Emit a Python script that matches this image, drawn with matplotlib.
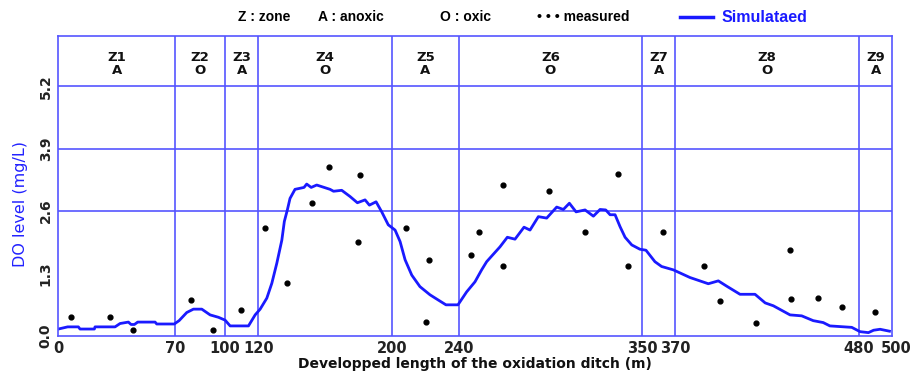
import matplotlib.pyplot as plt
from matplotlib.lines import Line2D
from matplotlib.transforms import ScaledTranslation

# zone boundaries along the ditch (m) and their labels
zone_edges = [0, 70, 100, 120, 200, 240, 350, 370, 480, 500]
zone_names = ["Z1", "Z2", "Z3", "Z4", "Z5", "Z6", "Z7", "Z8", "Z9"]
zone_types = ["A", "O", "A", "O", "A", "O", "A", "O", "A"]

y_ticks = [0.0, 1.3, 2.6, 3.9, 5.2]

# measured DO (mg/L)
meas_x = [7.6, 31.2, 45, 79.6, 92.9, 109.5, 123.8, 136.9, 151.9, 162.3, 179.5,
          180.9, 208.3, 220.4, 222.4, 247.2, 252.4, 266.4, 266.4, 294, 315.6,
          335.4, 341.7, 362.7, 386.9, 396.5, 418.1, 438.7, 439.3, 455.3, 470,
          489.4]
meas_y = [0.38, 0.38, 0.11, 0.75, 0.11, 0.54, 2.24, 1.09, 2.76, 3.52, 1.95,
          3.34, 2.24, 0.29, 1.58, 1.67, 2.15, 3.15, 1.46, 3.02, 2.17,
          3.37, 1.46, 2.15, 1.46, 0.71, 0.26, 1.79, 0.77, 0.79, 0.59,
          0.50]

# simulated DO profile
sim_x = [0, 5.6, 12, 13, 21.6, 22, 34, 37, 42, 43.6, 45.6, 47.6, 58, 59, 69.5,
         72.4, 77, 81, 86, 91, 96, 100, 103, 114, 118, 121, 125, 128, 131, 134,
         135.5, 137.3, 138.9, 141.9, 147.3, 148.9, 151.6, 154.9, 162.9, 165,
         169.9, 174.9, 179.3, 183.9, 186.5, 190.5, 193.9, 197.8, 201.9, 204.9,
         207.9, 211.9, 216.8, 222.8, 227.8, 232.4, 239.6, 244.8, 249.8, 253.8,
         256.8, 260.4, 264.8, 269.2, 273.8, 279.2, 282.8, 287.8, 292.8, 298.8,
         302.8, 306.4, 310.4, 315.8, 320.8, 324.8, 328.2, 330.8, 333.8, 336.8,
         339.8, 343.8, 348.7, 352.3, 357.7, 361.7, 368.7, 378.7, 389.7, 395.7,
         400.7, 408.7, 417.7, 423.8, 428.7, 438.7, 445.7, 452.6, 458.6, 462.6,
         475.7, 480.7, 485.7, 488.8, 492.7, 498.3]
sim_y = [0.135, 0.18, 0.18, 0.135, 0.135, 0.18, 0.18, 0.25, 0.28, 0.23, 0.23,
         0.28, 0.28, 0.24, 0.24, 0.31, 0.48, 0.55, 0.55, 0.43, 0.38, 0.32, 0.2,
         0.2, 0.43, 0.55, 0.78, 1.09, 1.51, 1.99, 2.38, 2.62, 2.86, 3.05, 3.09,
         3.16, 3.09, 3.14, 3.05, 3.01, 3.03, 2.90, 2.77, 2.83, 2.72, 2.79,
         2.58, 2.31, 2.20, 1.96, 1.58, 1.26, 1.02, 0.85, 0.74, 0.64, 0.64,
         0.91, 1.12, 1.37, 1.54, 1.68, 1.85, 2.05, 2.01, 2.26, 2.20, 2.48,
         2.45, 2.68, 2.63, 2.76, 2.58, 2.62, 2.49, 2.63, 2.62, 2.52, 2.52,
         2.27, 2.05, 1.89, 1.80, 1.78, 1.54, 1.44, 1.37, 1.21, 1.08, 1.14,
         1.03, 0.86, 0.86, 0.68, 0.62, 0.43, 0.41, 0.31, 0.27, 0.20, 0.17,
         0.08, 0.06, 0.11, 0.13, 0.09]

grid_c = "#5555ff"
line_c = "#1a1aff"

fig = plt.figure(figsize=(9.13, 3.84), dpi=100)
ax = fig.add_axes([0.0639, 0.1263, 0.9134, 0.78])

ax.set_xlim(0, 500)
ax.set_ylim(0, 6.25)

for x in zone_edges[1:-1]:
    ax.axvline(x, color=grid_c, lw=1.2)
for y in y_ticks[2:]:
    ax.axhline(y, color=grid_c, lw=1.2)

for i, (name, kind) in enumerate(zip(zone_names, zone_types)):
    xc = (zone_edges[i] + zone_edges[i + 1]) / 2
    ax.text(xc, 5.67, name + "\n" + kind, ha="center", va="center",
            fontsize=9.5, fontweight="bold", color="#111111", linespacing=1.0)

ax.plot(sim_x, sim_y, color=line_c, lw=2)
ax.scatter(meas_x, meas_y, s=12, color="black", zorder=3)

for s in ax.spines.values():
    s.set_color(grid_c)
    s.set_linewidth(1.2)

ax.set_xticks(zone_edges)
ax.set_xticklabels([str(v) for v in zone_edges], fontsize=10.5,
                   fontweight="bold", color="#222222")
ax.set_yticks(y_ticks)
ax.set_yticklabels(["%.1f" % v for v in y_ticks], rotation=90, fontsize=10,
                   fontweight="bold", color="#222222", va="center")
ax.tick_params(length=0, pad=4)

# nudge the end label so "480" and "500" don't collide
last = ax.get_xticklabels()[-1]
last.set_transform(last.get_transform() +
                   ScaledTranslation(3 / 72, 0, fig.dpi_scale_trans))

ax.set_xlabel("Developped length of the oxidation ditch (m)", fontsize=10,
              fontweight="bold", color="#111111", labelpad=1)
ax.set_ylabel("DO level (mg/L)", fontsize=11.5, color="#2222ff")
ax.yaxis.set_label_coords(-0.036, 0.44)

# key above the plot
ky = 0.955
fn = ["Liberation Sans", "DejaVu Sans"]
fig.text(238 / 913, ky, "Z : zone", fontsize=10, fontweight="bold",
         family=fn, va="center")
fig.text(318 / 913, ky, "A : anoxic", fontsize=10, fontweight="bold",
         family=fn, va="center")
fig.text(440 / 913, ky, "O : oxic", fontsize=10, fontweight="bold",
         family=fn, va="center")
fig.text(537 / 913, ky, "\u2022 \u2022 \u2022 measured", fontsize=10,
         fontweight="bold", family=fn, va="center")
fig.add_artist(Line2D([680 / 913, 713 / 913], [ky, ky], color=line_c, lw=2.5,
                      transform=fig.transFigure))
fig.text(722 / 913, ky, "Simulataed", fontsize=11.5, fontweight="bold",
         family=fn, color=line_c, va="center")

fig.savefig("out.png", dpi=100)
